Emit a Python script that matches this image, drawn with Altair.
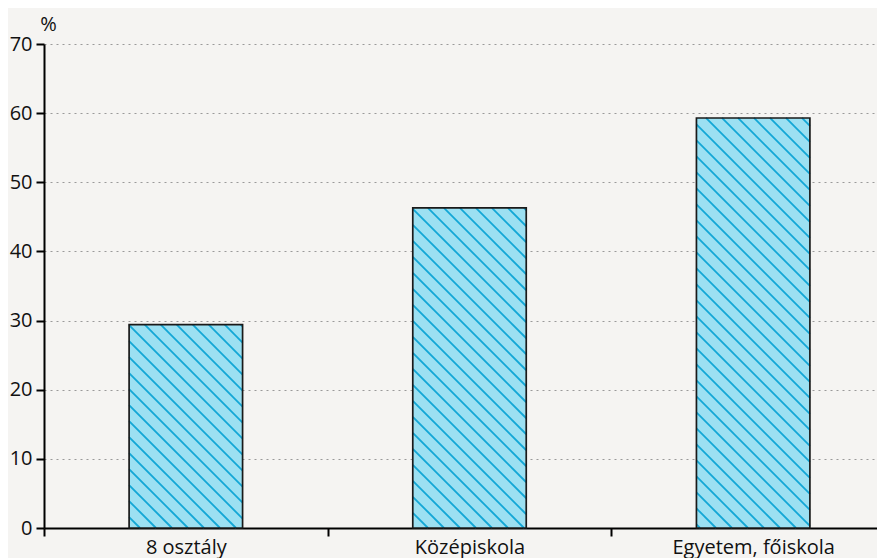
import json
import altair as alt
import pandas as pd

# ---- data ----
categories = ["8 osztály", "Középiskola", "Egyetem, főiskola"]
values = [29.4, 46.3, 59.3]
y_ticks = [0, 10, 20, 30, 40, 50, 60, 70]
y_title = "%"

# ---- layout / style ----
BAND_PX = 283.67          # pixel width of one category band
W, H = 833, 484           # plot area (right part of last band runs off the page)
YMAX = 70
BAR_W = 0.4
HATCH_STEP = 16.0         # px, horizontal spacing of hatch lines
FONT = "Open Sans"
BG = "#f5f4f2"

kx = BAND_PX
ky = H / YMAX
XMAX = W / kx

bars = pd.DataFrame({
    "cat": categories,
    "x0": [i + 0.5 - BAR_W / 2 for i in range(len(categories))],
    "x1": [i + 0.5 + BAR_W / 2 for i in range(len(categories))],
    "y0": [0.0] * len(categories),
    "y1": values,
})

# hatch segments ("\" at 45 degrees in pixel space), clipped to each bar
rows = []
for _, b in bars.iterrows():
    L, R, h = b.x0 * kx, b.x1 * kx, b.y1 * ky
    k = int(L // HATCH_STEP) + 1
    while k * HATCH_STEP < R + h:
        c = k * HATCH_STEP
        xa, xb = max(L, c - h), min(R, c)
        if xb > xa:
            rows.append({"x0": xa / kx, "y0": (c - xa) / ky,
                         "x1": xb / kx, "y1": (c - xb) / ky})
        k += 1
hatch = pd.DataFrame(rows)

label_expr = ""
for i, c in enumerate(categories):
    label_expr += f"datum.value === {i + 0.5} ? {json.dumps(c, ensure_ascii=False)} : "
label_expr += "''"

x_vals = [i * 0.5 for i in range(2 * len(categories) + 1) if i * 0.5 <= XMAX]

fill = alt.Chart(bars).mark_rect(fill="#9ce0f2")
lines = alt.Chart(hatch).mark_rule(color="#13a7d6", strokeWidth=1.8)
outline = alt.Chart(bars).mark_rect(fillOpacity=0, stroke="#1a1a1a", strokeWidth=1.7)

chart = alt.layer(fill, lines, outline).encode(
    x=alt.X("x0:Q",
            scale=alt.Scale(domain=[0, XMAX], nice=False, zero=False),
            axis=alt.Axis(values=x_vals, labelExpr=label_expr, title=None, grid=False,
                          domainColor="#000", domainWidth=2,
                          tickColor="#000", tickWidth=2,
                          tickSize={"condition": {"test": "datum.value % 1 === 0", "value": 8}, "value": 0},
                          labelFont=FONT, labelFontSize=20, labelColor="#111",
                          labelPadding=9, labelOverlap=False, labelFlush=False,
                          labelBound=False)),
    x2="x1:Q",
    y=alt.Y("y0:Q",
            scale=alt.Scale(domain=[0, YMAX], nice=False),
            axis=alt.Axis(values=y_ticks, title=y_title, titleAngle=0, titleX=4, titleY=-14,
                          titleAlign="center", titleBaseline="alphabetic",
                          titleFont=FONT, titleFontSize=20, titleFontWeight="normal",
                          titleColor="#111",
                          grid=True, gridDash=[2, 4], gridColor="#9a9a9a", gridWidth=1,
                          domainColor="#000", domainWidth=2,
                          tickColor="#000", tickWidth=2, tickSize=8,
                          labelFont=FONT, labelFontSize=20, labelColor="#111",
                          labelPadding=4)),
    y2="y1:Q",
).properties(
    width=W, height=H, background=BG,
    padding={"left": 36, "top": 36, "right": 0, "bottom": 30},
    autosize=alt.AutoSizeParams(type="none"),
).configure_view(strokeWidth=0)

chart.save("out.html", embed_options={"renderer": "svg", "actions": False})
